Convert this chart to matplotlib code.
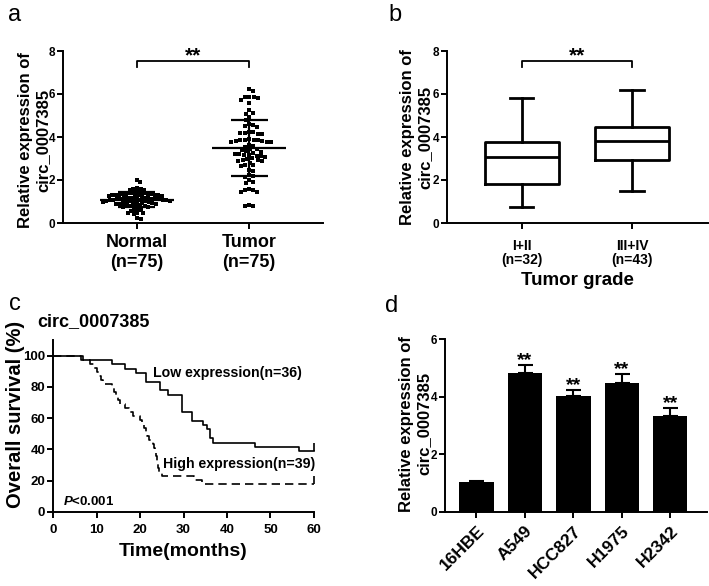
import numpy as np
import matplotlib.pyplot as plt

plt.rcParams['font.family'] = ['Liberation Sans', 'DejaVu Sans']
plt.rcParams['font.weight'] = 'bold'
plt.rcParams['axes.labelweight'] = 'bold'
plt.rcParams['mathtext.fontset'] = 'custom'
plt.rcParams['mathtext.it'] = 'Liberation Sans:bold:italic'
plt.rcParams['mathtext.rm'] = 'Liberation Sans:bold'

# ---- panel a: scatter dot plot
normal_vals = [2.02, 1.93,
               1.62, 1.60, 1.58, 1.55, 1.55,
               1.45, 1.42, 1.40, 1.38, 1.38, 1.35, 1.35,
               1.33, 1.33, 1.31, 1.31, 1.30, 1.29, 1.28, 1.28, 1.27, 1.25, 1.25, 1.23,
               1.18, 1.17, 1.16, 1.15, 1.15, 1.13, 1.13, 1.12, 1.11, 1.11, 1.10, 1.09, 1.08, 1.08,
               1.07, 1.05, 1.05, 1.04, 1.03, 1.02, 1.01, 1.00, 1.00, 0.99,
               0.95, 0.93, 0.92, 0.91, 0.90, 0.89, 0.88, 0.87,
               0.83, 0.81, 0.80, 0.79, 0.77, 0.75, 0.75,
               0.65, 0.62, 0.60, 0.57,
               0.48, 0.45, 0.42,
               0.45, 0.22, 0.20]
tumor_vals = [6.22, 6.12, 5.88, 5.86, 5.84, 5.82, 5.72, 5.60,
              5.25, 5.12, 5.08,
              4.92, 4.78,
              4.60, 4.55, 4.50, 4.45,
              4.25, 4.22, 4.20, 4.18, 4.15, 4.12,
              3.90, 3.88, 3.86, 3.85, 3.84, 3.82, 3.80, 3.78, 3.76, 3.75,
              3.62, 3.58, 3.55,
              3.45, 3.42, 3.40, 3.35, 3.32,
              3.25, 3.22, 3.20, 3.18, 3.15, 3.12, 3.10,
              3.05, 3.02, 2.98, 2.95, 2.92, 2.90, 2.88, 2.80,
              2.72, 2.70, 2.65,
              2.48, 2.42,
              2.25, 2.20, 2.15,
              2.02, 1.90, 1.85,
              1.58, 1.55, 1.52, 1.45, 1.42,
              0.85, 0.80, 0.78]
groups_a = ['Normal\n(n=75)', 'Tumor\n(n=75)']

# ---- panel b: box plot summary
grades = ['I+II\n(n=32)', 'III+IV\n(n=43)']
grade_low = [0.75, 1.82, 3.05, 3.75, 5.82]   # whislo, q1, med, q3, whishi
grade_high = [1.50, 2.92, 3.80, 4.45, 6.20]

# ---- panel c: Kaplan-Meier
low_time = [0, 7, 13.5, 16.5, 19, 21.3, 24.5, 26.5, 29.6, 32, 34.5, 35.5, 36.2, 36.8, 46.4, 56.5, 60]
low_surv = [100, 97.2, 94.4, 91.7, 88.9, 83.3, 77.8, 75.0, 63.9, 58.3, 55.6, 52.8, 47.2, 44.4, 41.7, 38.9, 38.9]
high_time = [0, 6.5, 8.5, 9.5, 10.0, 10.5, 11.0, 11.5, 13.5, 14.0, 14.5, 15.0, 15.5, 16.5, 17.5, 18.5,
             20.0, 20.5, 20.9, 21.3, 21.7, 22.0, 23.0, 23.2, 23.4, 23.6, 23.8, 24.0, 24.2, 24.4,
             25.0, 32.5, 34.3, 60]
high_surv = [100, 97.4, 94.9, 92.3, 89.7, 87.2, 84.6, 82.1, 79.5, 76.9, 74.4, 71.8, 69.2, 66.7, 64.1, 61.5,
             59.0, 56.4, 53.8, 51.3, 48.7, 46.2, 43.6, 41.0, 38.5, 35.9, 33.3, 30.8, 28.2, 25.6,
             23.1, 20.5, 17.9, 17.9]

# ---- panel d: cell lines
cells = ['16HBE', 'A549', 'HCC827', 'H1975', 'H2342']
expr = [1.03, 4.83, 4.04, 4.48, 3.33]
expr_err = [0.04, 0.28, 0.18, 0.31, 0.26]

W, H = 709, 586
fig = plt.figure(figsize=(W / 100, H / 100), dpi=100)


def px_axes(left, right, top, bottom):
    return fig.add_axes([left / W, 1 - bottom / H, (right - left) / W, (bottom - top) / H])


def style(ax, size=8.5):
    for s in ['top', 'right']:
        ax.spines[s].set_visible(False)
    for s in ['left', 'bottom']:
        ax.spines[s].set_linewidth(1.4)
    ax.tick_params(direction='out', length=4.5, width=1.4, labelsize=size)
    ax.tick_params(axis='y', pad=1)


def swarm(vals, d, sx, sy):
    # beeswarm: each point goes to the free spot nearest the centre (pixels)
    vals = np.asarray(vals)
    offs = np.zeros(len(vals))
    px, py = [], []
    for i in np.argsort(vals)[::-1]:
        y = vals[i] * sy
        cands = [0.0]
        for xj, yj in zip(px, py):
            dy = abs(y - yj)
            if dy < d:
                dx = np.sqrt(d * d - dy * dy)
                cands += [xj + dx, xj - dx]
        cands.sort(key=abs)
        for x in cands:
            if all((x - xj) ** 2 + (y - yj) ** 2 >= d * d - 1e-6 for xj, yj in zip(px, py)):
                break
        px.append(x)
        py.append(y)
        offs[i] = x / sx
    return offs


ax_a = px_axes(63, 323, 51, 223)
ax_b = px_axes(447, 708, 51, 223)
ax_c = px_axes(53, 314, 340, 512)
ax_d = px_axes(445, 707, 339, 512)

# ---------------- a
style(ax_a)
ax_a.set_xlim(-0.66, 1.66)
ax_a.set_ylim(0, 8)
bb = ax_a.get_window_extent()
sx = bb.width / 2.32
sy = bb.height / 8
for k, (vals, d) in enumerate([(normal_vals, 3.6), (tumor_vals, 4.5)]):
    offs = swarm(vals, d, sx, sy)
    ax_a.scatter(k + offs, vals, marker='s', s=8, color='k', lw=0, zorder=3)
    m = np.mean(vals)
    sd = np.std(vals, ddof=1)
    ax_a.hlines(m, k - 0.33, k + 0.33, color='k', lw=1.6, zorder=4)
    ax_a.vlines(k, m - sd, m + sd, color='k', lw=1.6, zorder=4)
    ax_a.hlines([m - sd, m + sd], k - 0.165, k + 0.165, color='k', lw=1.6, zorder=4)
ax_a.set_xticks([0, 1])
ax_a.set_xticklabels(groups_a, fontsize=13)
ax_a.set_yticks([0, 2, 4, 6, 8])
ax_a.plot([0, 0, 1, 1], [7.27, 7.52, 7.52, 7.27], color='k', lw=1.3)
ax_a.text(0.5, 7.5, '**', ha='center', va='baseline', fontsize=15)
ax_a.set_ylabel('Relative expression of\ncirc_0007385', fontsize=12)
ax_a.yaxis.set_label_coords(-0.05, 0.48)

# ---------------- b
style(ax_b)
stats = []
for q in [grade_low, grade_high]:
    stats.append(dict(whislo=q[0], q1=q[1], med=q[2], q3=q[3], whishi=q[4], fliers=[]))
lp = dict(color='k', lw=2)
ax_b.bxp(stats, positions=[0, 1], widths=0.67, capwidths=0.21, showfliers=False,
         boxprops=lp, medianprops=lp, whiskerprops=lp, capprops=lp)
ax_b.set_xlim(-0.68, 1.69)
ax_b.set_ylim(0, 8)
ax_b.set_yticks([0, 2, 4, 6, 8])
ax_b.set_xticks([0, 1])
ax_b.set_xticklabels(grades, fontsize=10, linespacing=1.0)
ax_b.tick_params(axis='x', pad=7)
ax_b.plot([0, 0, 1, 1], [7.27, 7.52, 7.52, 7.27], color='k', lw=1.3)
ax_b.text(0.5, 7.5, '**', ha='center', va='baseline', fontsize=15)
ax_b.set_ylabel('Relative expression of\ncirc_0007385', fontsize=12)
ax_b.yaxis.set_label_coords(-0.0575, 0.5)
ax_b.set_xlabel('Tumor grade', fontsize=13.5)
ax_b.xaxis.set_label_coords(0.5, -0.285)

# ---------------- c
style(ax_c, 9.5)
ax_c.tick_params(axis='x', pad=4)
ax_c.step(low_time, low_surv, where='post', color='k', lw=1.2, clip_on=False)
ax_c.step(high_time, high_surv, where='post', color='k', lw=1.2, ls=(0, (5, 3)), clip_on=False)
ax_c.plot([60, 60], [low_surv[-1], high_surv[-1]], ls='none', marker=2, ms=6, mew=1.2,
          color='k', clip_on=False)
ax_c.set_xlim(0, 60)
ax_c.set_ylim(0, 110)
ax_c.set_xticks(range(0, 61, 10))
ax_c.set_yticks(range(0, 101, 20))
ax_c.text(23, 89, 'Low expression(n=36)', fontsize=10.2, va='center')
ax_c.text(25.3, 30.6, 'High expression(n=39)', fontsize=10.2, va='center')
ax_c.text(2.2, 7, '$P$<0.001', fontsize=9.5, va='center')
ax_c.text(-0.061, 1.105, 'circ_0007385', fontsize=13, va='center', transform=ax_c.transAxes)
ax_c.set_ylabel('Overall survival (%)', fontsize=14.5)
ax_c.yaxis.set_label_coords(-0.107, 0.57)
ax_c.set_xlabel('Time(months)', fontsize=14)
ax_c.xaxis.set_label_coords(0.5, -0.18)

# ---------------- d
style(ax_d)
xd = np.arange(len(cells))
ax_d.bar(xd, expr, width=0.71, color='k')
ax_d.errorbar(xd, expr, yerr=[np.zeros(len(cells)), expr_err], fmt='none', ecolor='k',
              elinewidth=1.5, capsize=5.4, capthick=1.5)
for i in range(1, len(cells)):
    ax_d.text(xd[i], expr[i] + expr_err[i], '**', ha='center', va='baseline', fontsize=14)
ax_d.set_xlim(-0.65, 4.76)
ax_d.set_ylim(0, 6)
ax_d.set_yticks([0, 2, 4, 6])
ax_d.set_xticks(xd)
ax_d.set_xticklabels(cells, rotation=45, ha='right', rotation_mode='anchor', fontsize=12.5)
ax_d.set_ylabel('Relative expression of\ncirc_0007385', fontsize=12)
ax_d.yaxis.set_label_coords(-0.05, 0.51)

# panel letters
for lab, x, y in [('a', 15, 15), ('b', 395, 15), ('c', 15, 304), ('d', 392, 306)]:
    fig.text(x / W, 1 - y / H, lab, fontsize=17, fontweight='normal', ha='center', va='center')

fig.savefig('out.png', dpi=100)
